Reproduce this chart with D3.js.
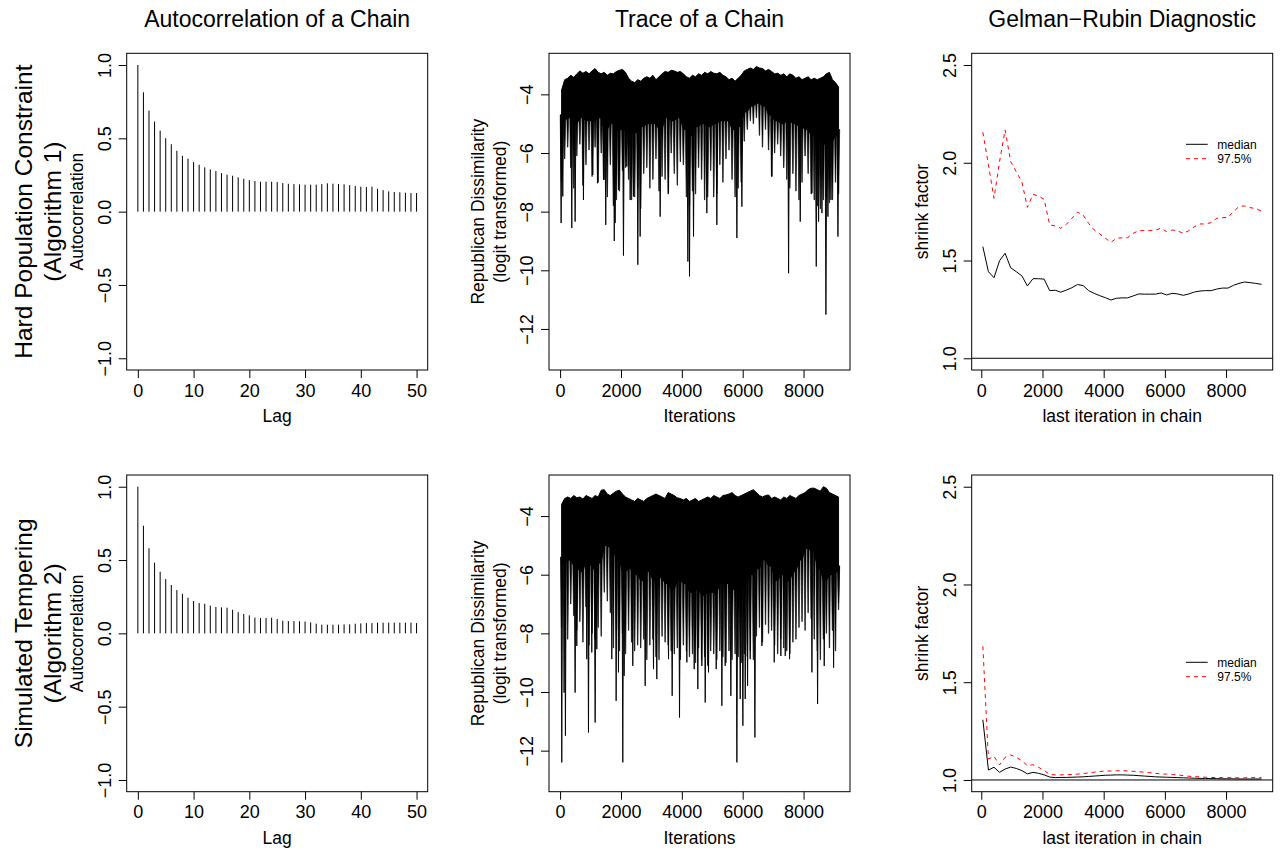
<!DOCTYPE html>
<html><head><meta charset="utf-8">
<script src="https://cdn.jsdelivr.net/npm/d3@7"></script>
<style>
html,body{margin:0;padding:0;background:#fff;}
text{font-family:"Liberation Sans",Arial,Helvetica,sans-serif;fill:#000;}
</style></head>
<body>
<script>
// ---------------- DATA ----------------
const columnTitles = ["Autocorrelation of a Chain", "Trace of a Chain", "Gelman\u2212Rubin Diagnostic"];
const rowLabels = [["Hard Population Constraint", "(Algorithm 1)"], ["Simulated Tempering", "(Algorithm 2)"]];

const acfLags = d3.range(0, 51);
const acfTop = [1.000,0.814,0.689,0.615,0.553,0.501,0.460,0.415,0.381,0.361,0.338,0.320,0.302,0.288,0.277,0.263,0.252,0.245,0.234,0.224,0.215,0.209,0.204,0.204,0.204,0.202,0.195,0.190,0.188,0.186,0.184,0.184,0.184,0.188,0.193,0.191,0.188,0.186,0.181,0.175,0.170,0.168,0.170,0.156,0.147,0.138,0.134,0.132,0.129,0.127,0.127];
const acfBottom = [1.000,0.734,0.580,0.482,0.420,0.370,0.330,0.295,0.270,0.243,0.220,0.207,0.202,0.189,0.180,0.177,0.175,0.161,0.145,0.132,0.123,0.107,0.105,0.105,0.107,0.098,0.086,0.084,0.084,0.082,0.080,0.075,0.066,0.059,0.059,0.059,0.059,0.061,0.061,0.066,0.068,0.070,0.070,0.073,0.073,0.073,0.073,0.073,0.073,0.073,0.070];
const acfTicksX = [0,10,20,30,40,50];
const acfTicksY = [-1.0,-0.5,0.0,0.5,1.0];

// Trace of a chain, summarised per 100-iteration bin:
//   *Hi   : top of the band in each bin
//   *Comb : typical low excursion in each bin
// *Core : bottom of the solid band per 200-iteration block
// *Spikes : the deep individual excursions [iteration, value]
const traceBinIter = d3.range(50, 9200, 100);
const traceTopHi = [-3.85,-3.5,-3.45,-3.35,-3.42,-3.3,-3.2,-3.28,-3.22,-3.3,-3.2,-3.12,-3.25,-3.3,-3.25,-3.35,-3.28,-3.3,-3.22,-3.18,-3.15,-3.25,-3.45,-3.55,-3.6,-3.5,-3.55,-3.45,-3.4,-3.45,-3.35,-3.5,-3.4,-3.3,-3.22,-3.25,-3.18,-3.2,-3.25,-3.22,-3.3,-3.4,-3.45,-3.35,-3.4,-3.3,-3.35,-3.25,-3.3,-3.22,-3.28,-3.3,-3.25,-3.35,-3.4,-3.5,-3.45,-3.55,-3.45,-3.35,-3.2,-3.15,-3.1,-3.15,-3.05,-3.1,-3.12,-3.2,-3.15,-3.22,-3.3,-3.28,-3.35,-3.3,-3.4,-3.3,-3.35,-3.45,-3.4,-3.5,-3.45,-3.4,-3.5,-3.45,-3.5,-3.45,-3.4,-3.3,-3.25,-3.5,-3.6,-3.75];
const traceTopComb = [-7.0,-6.2,-5.8,-6.5,-7.2,-6.1,-5.7,-7.1,-6.4,-5.9,-6.8,-5.8,-7.0,-6.0,-6.9,-7.5,-6.4,-7.8,-7.6,-7.3,-6.6,-6.5,-6.9,-7.6,-7.5,-7.2,-7.9,-6.7,-6.5,-7.2,-6.9,-6.2,-7.3,-6.8,-6.9,-7.4,-6.0,-6.7,-7.1,-6.3,-6.4,-7.5,-7.8,-7.3,-7.4,-6.5,-6.9,-7.6,-7.5,-6.6,-7.5,-7.4,-6.4,-7.0,-6.2,-5.9,-6.9,-7.5,-7.2,-7.0,-5.6,-5.2,-4.9,-5.0,-4.8,-5.4,-5.8,-5.2,-5.9,-6.8,-6.0,-5.7,-6.1,-6.5,-6.9,-7.2,-6.7,-7.3,-7.6,-7.0,-6.1,-6.7,-7.4,-7.6,-7.8,-7.9,-7.6,-7.5,-7.7,-7.6,-7.0,-7.4];
const traceTopCore = [-4.9,-4.8,-5.0,-4.8,-4.9,-4.9,-4.8,-5.2,-5.0,-5.2,-5.2,-5.3,-5.3,-5.1,-5.0,-5.0,-5.2,-4.8,-4.9,-4.8,-5.2,-5.4,-5.1,-5.0,-5.1,-5.0,-4.9,-4.9,-5.2,-5.1,-4.6,-4.4,-4.3,-4.4,-4.7,-4.9,-5.0,-4.9,-5.0,-5.1,-5.2,-5.4,-5.6,-5.7,-5.6,-5.4];
const traceTopSpikes = [[33,-8.39],[88,-7.48],[384,-8.56],[493,-8.34],[767,-7.60],[1074,-6.75],[1228,-7.03],[1425,-6.92],[1500,-8.45],[1780,-9.0],[1808,-8.39],[1918,-7.26],[2082,-9.50],[2192,-6.46],[2302,-7.60],[2411,-7.48],[2554,-9.81],[2630,-8.85],[3288,-8.17],[3562,-7.37],[4198,-9.70],[4252,-10.21],[4384,-8.85],[4822,-8.05],[5151,-8.45],[5809,-8.90],[5973,-7.83],[6960,-6.80],[7508,-10.10],[7891,-8.34],[8275,-7.37],[8417,-9.87],[8494,-8.34],[8604,-8.05],[8735,-11.51],[8801,-8.17],[8900,-7.60],[9130,-8.85]];

const traceBotHi = [-3.6,-3.4,-3.35,-3.4,-3.3,-3.38,-3.35,-3.42,-3.3,-3.35,-3.4,-3.3,-3.35,-3.12,-3.1,-3.25,-3.3,-3.22,-3.15,-3.12,-3.25,-3.35,-3.4,-3.45,-3.5,-3.4,-3.45,-3.5,-3.4,-3.35,-3.3,-3.25,-3.3,-3.35,-3.4,-3.2,-3.25,-3.3,-3.38,-3.4,-3.45,-3.4,-3.5,-3.45,-3.4,-3.5,-3.45,-3.4,-3.35,-3.4,-3.3,-3.35,-3.4,-3.3,-3.28,-3.25,-3.2,-3.3,-3.35,-3.3,-3.25,-3.2,-3.15,-3.1,-3.2,-3.3,-3.35,-3.3,-3.28,-3.4,-3.35,-3.4,-3.45,-3.35,-3.4,-3.3,-3.35,-3.4,-3.3,-3.25,-3.2,-3.1,-3.05,-3.05,-3.1,-3.15,-3.0,-3.05,-3.2,-3.25,-3.3,-3.35];
const traceBotComb = [-7.8,-7.3,-8.2,-7.0,-7.4,-7.9,-7.6,-8.3,-7.1,-8.4,-8.0,-8.2,-7.8,-8.1,-6.6,-6.9,-7.3,-8.5,-7.9,-8.6,-8.0,-8.7,-7.9,-8.3,-8.6,-8.4,-8.5,-8.2,-8.9,-8.4,-8.2,-8.8,-8.9,-8.1,-8.3,-8.4,-8.6,-8.7,-8.5,-8.9,-8.4,-8.6,-8.8,-8.7,-9.0,-8.5,-8.9,-8.8,-9.1,-8.6,-8.7,-8.9,-8.6,-8.8,-9.0,-8.6,-8.9,-8.7,-8.8,-9.0,-8.7,-8.8,-8.6,-8.9,-8.1,-7.8,-8.3,-7.7,-8.0,-7.9,-8.4,-8.7,-8.2,-8.5,-8.6,-8.7,-8.3,-8.2,-7.8,-7.6,-7.9,-7.3,-7.5,-8.2,-8.6,-8.9,-8.2,-8.0,-8.5,-7.9,-8.6,-7.2];
const traceBotCore = [-5.6,-5.5,-5.7,-5.9,-5.5,-5.8,-5.6,-5.0,-5.1,-5.5,-5.9,-5.8,-6.0,-6.2,-5.9,-6.2,-6.1,-6.3,-6.5,-6.2,-6.3,-6.6,-6.5,-6.7,-6.6,-6.6,-6.3,-6.3,-6.5,-6.6,-6.2,-6.0,-5.8,-5.5,-5.7,-6.2,-6.0,-6.2,-5.9,-5.5,-5.1,-5.2,-5.8,-6.2,-6.0,-5.9];
const traceBotSpikes = [[55,-12.40],[131,-10.02],[175,-11.49],[493,-10.02],[548,-8.43],[877,-8.88],[932,-11.38],[1041,-8.65],[1151,-11.04],[1206,-8.54],[1699,-8.88],[1841,-10.30],[1918,-9.33],[2060,-12.40],[2104,-9.45],[2389,-9.11],[2795,-9.79],[3069,-9.22],[3178,-9.56],[3562,-8.88],[3682,-10.13],[3924,-10.87],[4165,-8.99],[4406,-9.22],[4526,-9.90],[4658,-9.11],[4768,-10.36],[4877,-9.33],[5129,-9.22],[5316,-10.47],[5425,-9.11],[5611,-10.13],[5809,-12.40],[5918,-10.24],[6006,-11.15],[6083,-10.24],[6160,-9.79],[6247,-8.88],[6401,-11.55],[6631,-8.43],[7036,-8.99],[7255,-8.77],[7398,-8.77],[7540,-8.88],[8275,-9.33],[8461,-10.41],[8679,-9.11],[8987,-9.17],[9150,-6.95]];
const traceTicksX = [0,2000,4000,6000,8000];
const traceTicksY = [-12,-10,-8,-6,-4];

const gelmanIter = [51,233,415,597,779,961,1143,1325,1507,1689,1871,2053,2235,2417,2599,2781,2963,3145,3327,3509,3691,3873,4055,4237,4419,4601,4783,4965,5147,5329,5511,5693,5875,6057,6239,6421,6603,6785,6967,7149,7331,7513,7695,7877,8059,8241,8423,8605,8787,8969,9160];
const gelmanTopMedian = [1.571,1.443,1.412,1.499,1.537,1.463,1.443,1.422,1.370,1.407,1.407,1.405,1.346,1.348,1.338,1.349,1.361,1.377,1.372,1.346,1.332,1.320,1.310,1.298,1.307,1.309,1.309,1.319,1.329,1.328,1.328,1.328,1.334,1.324,1.332,1.329,1.322,1.329,1.339,1.344,1.346,1.346,1.354,1.359,1.359,1.373,1.383,1.390,1.387,1.383,1.378];
const gelmanTopUpper = [2.156,1.990,1.818,2.006,2.168,2.006,1.954,1.903,1.772,1.839,1.830,1.813,1.682,1.677,1.665,1.685,1.716,1.747,1.733,1.690,1.656,1.636,1.614,1.593,1.614,1.616,1.617,1.639,1.653,1.653,1.653,1.656,1.665,1.648,1.656,1.651,1.639,1.653,1.673,1.687,1.687,1.694,1.716,1.719,1.721,1.750,1.776,1.779,1.771,1.765,1.753];
const gelmanBotMedian = [1.308,1.051,1.065,1.039,1.056,1.066,1.059,1.048,1.031,1.039,1.034,1.026,1.015,1.012,1.013,1.013,1.014,1.015,1.016,1.018,1.020,1.022,1.024,1.025,1.026,1.026,1.025,1.024,1.022,1.020,1.018,1.016,1.015,1.014,1.013,1.012,1.011,1.010,1.009,1.008,1.008,1.007,1.007,1.006,1.006,1.006,1.005,1.005,1.005,1.005,1.005];
const gelmanBotUpper = [1.684,1.107,1.121,1.077,1.116,1.128,1.116,1.099,1.073,1.078,1.065,1.048,1.029,1.026,1.026,1.027,1.028,1.030,1.033,1.036,1.040,1.043,1.046,1.046,1.047,1.048,1.046,1.044,1.042,1.040,1.037,1.034,1.031,1.030,1.028,1.026,1.022,1.019,1.017,1.016,1.014,1.013,1.012,1.012,1.012,1.011,1.011,1.011,1.012,1.012,1.012];
const gelmanTicksX = [0,2000,4000,6000,8000];
const gelmanTicksY = [1.0,1.5,2.0,2.5];
const legendLabels = ["median", "97.5%"];

// ---------------- LAYOUT ----------------
const W = 1280, H = 851;
const colX = [126.7, 549, 971.7];
const rowY = [53.3, 475];
const PW = 301, PH = 316.7;
const TICK_FS = 18, LAB_FS = 17.5, TITLE_FS = 23, ROW_FS = 24.5;

const svg = d3.select("body").append("svg").attr("width", W).attr("height", H);
const minus = s => String(s).replace(/^-/, "\u2212");

function makePanel(col, row, xDomain, yDomain, xTicks, yTicks, xFmt, yFmt, xLab, yLabLines) {
  const g = svg.append("g").attr("transform", `translate(${colX[col]},${rowY[row]})`);
  const x = d3.scaleLinear().domain(xDomain).range([0, PW]);
  const y = d3.scaleLinear().domain(yDomain).range([PH, 0]);
  const clipId = `clip${col}${row}`;
  g.append("clipPath").attr("id", clipId).append("rect").attr("width", PW).attr("height", PH);
  const plot = g.append("g").attr("clip-path", `url(#${clipId})`);

  const xa = g.append("g").attr("transform", `translate(0,${PH})`)
    .call(d3.axisBottom(x).tickValues(xTicks).tickSize(8).tickSizeOuter(0).tickFormat(xFmt));
  xa.select(".domain").remove();
  xa.attr("font-family", null).attr("font-size", null);
  xa.selectAll("line").attr("stroke", "#000");
  xa.selectAll("text").attr("y", 26.5).attr("dy", null).style("font-size", TICK_FS + "px");
  const ya = g.append("g")
    .call(d3.axisLeft(y).tickValues(yTicks).tickSize(8).tickSizeOuter(0).tickFormat(yFmt));
  ya.select(".domain").remove();
  ya.attr("font-family", null).attr("font-size", null);
  ya.selectAll("line").attr("stroke", "#000");
  ya.selectAll("text").attr("x", null).attr("dy", null)
    .attr("transform", "translate(-16,0) rotate(-90)")
    .attr("text-anchor", "middle").style("font-size", TICK_FS + "px");

  g.append("rect").attr("width", PW).attr("height", PH)
    .attr("fill", "none").attr("stroke", "#000").attr("stroke-width", 1);

  g.append("text").attr("x", PW / 2).attr("y", PH + 52).attr("text-anchor", "middle")
    .style("font-size", LAB_FS + "px").text(xLab);
  const n = yLabLines.length;
  yLabLines.forEach((t, i) => {
    g.append("text")
      .attr("transform", `translate(${-43.5 - (n - 1 - i) * 22},${PH / 2}) rotate(-90)`)
      .attr("text-anchor", "middle").style("font-size", LAB_FS + "px").text(t);
  });
  return { g, plot, x, y };
}

columnTitles.forEach((t, i) => {
  svg.append("text").attr("x", colX[i] + PW / 2).attr("y", 27).attr("text-anchor", "middle")
    .style("font-size", TITLE_FS + "px").text(t);
});
rowLabels.forEach((lines, r) => {
  lines.forEach((t, i) => {
    svg.append("text")
      .attr("transform", `translate(${31.7 + i * 29.6},${rowY[r] + PH / 2}) rotate(-90)`)
      .attr("text-anchor", "middle").style("font-size", ROW_FS + "px").text(t);
  });
});

// ---------- ACF ----------
function acfPanel(row, vals) {
  const p = makePanel(0, row, [-2, 52], [-1.08, 1.08], acfTicksX, acfTicksY,
    d => d, d => minus(d3.format(".1f")(d)), "Lag", ["Autocorrelation"]);
  p.plot.selectAll("line.bar").data(acfLags).join("line").attr("class", "bar")
    .attr("x1", d => p.x(d)).attr("x2", d => p.x(d))
    .attr("y1", p.y(0)).attr("y2", d => p.y(vals[d]))
    .attr("stroke", "#000").attr("stroke-width", 1);
}
acfPanel(0, acfTop);
acfPanel(1, acfBottom);

// ---------- TRACE ----------
function tracePanel(row, hi, comb, core, spikes) {
  const p = makePanel(1, row, [-365, 9526], [-13.4, -2.6], traceTicksX, traceTicksY,
    d => d, d => minus(d), "Iterations", ["Republican Dissimilarity", "(logit transformed)"]);
  const coreOf = it => core[Math.min(core.length - 1, Math.max(0, Math.floor(it / 200)))];
  const pts = traceBinIter.map((it, i) => ({ it, hi: hi[i], comb: comb[i], core: coreOf(it) }));
  // solid band
  const area = d3.area().x(d => p.x(d.it)).y0(d => p.y(d.core)).y1(d => p.y(d.hi));
  p.plot.append("path").datum(pts).attr("d", area).attr("fill", "#000")
    .attr("stroke", "#000").attr("stroke-width", 1);
  // comb of low excursions
  p.plot.selectAll("path.comb").data(pts).join("path").attr("class", "comb")
    .attr("d", d => {
      const xx = p.x(d.it), yc = p.y(d.core + 0.2), yv = p.y(Math.min(d.comb, d.core));
      return `M${xx - 1.1},${yc}L${xx - 0.2},${yv}L${xx + 0.2},${yv}L${xx + 1.1},${yc}Z`;
    })
    .attr("fill", "#000").attr("stroke", "#000").attr("stroke-width", 0.6);
  // deep spikes
  p.plot.selectAll("path.spike").data(spikes).join("path").attr("class", "spike")
    .attr("d", d => {
      const xx = p.x(d[0]), yc = p.y(coreOf(d[0]) + 0.2), yv = p.y(d[1]);
      return `M${xx - 0.8},${yc}L${xx},${yv}L${xx + 0.8},${yc}Z`;
    })
    .attr("fill", "#000").attr("stroke", "#000").attr("stroke-width", 0.9);
}
tracePanel(0, traceTopHi, traceTopComb, traceTopCore, traceTopSpikes);
tracePanel(1, traceBotHi, traceBotComb, traceBotCore, traceBotSpikes);

// ---------- GELMAN ----------
function gelmanPanel(row, med, up, legendY) {
  const p = makePanel(2, row, [-313.4, 9524.4], [0.94, 2.56], gelmanTicksX, gelmanTicksY,
    d => d, d => d3.format(".1f")(d), "last iteration in chain", ["shrink factor"]);
  p.plot.append("line").attr("x1", 0).attr("x2", PW).attr("y1", p.y(1)).attr("y2", p.y(1))
    .attr("stroke", "#000").attr("stroke-width", 1);
  const line = d3.line().x((d, i) => p.x(gelmanIter[i])).y(d => p.y(d));
  p.plot.append("path").datum(med).attr("d", line).attr("fill", "none")
    .attr("stroke", "#000").attr("stroke-width", 1);
  p.plot.append("path").datum(up).attr("d", line).attr("fill", "none")
    .attr("stroke", "#ff0000").attr("stroke-width", 1).attr("stroke-dasharray", "4,4");
  const lg = svg.append("g");
  legendLabels.forEach((t, i) => {
    const yy = legendY + i * 14.4;
    lg.append("line").attr("x1", 1186).attr("x2", 1207.7).attr("y1", yy).attr("y2", yy)
      .attr("stroke", i === 0 ? "#000" : "#ff0000").attr("stroke-width", 1)
      .attr("stroke-dasharray", i === 0 ? null : "4,4");
    lg.append("text").attr("x", 1217.3).attr("y", yy + 4.2).style("font-size", "12px").text(t);
  });
}
gelmanPanel(0, gelmanTopMedian, gelmanTopUpper, 144.3);
gelmanPanel(1, gelmanBotMedian, gelmanBotUpper, 662.3);
</script>
</body></html>
